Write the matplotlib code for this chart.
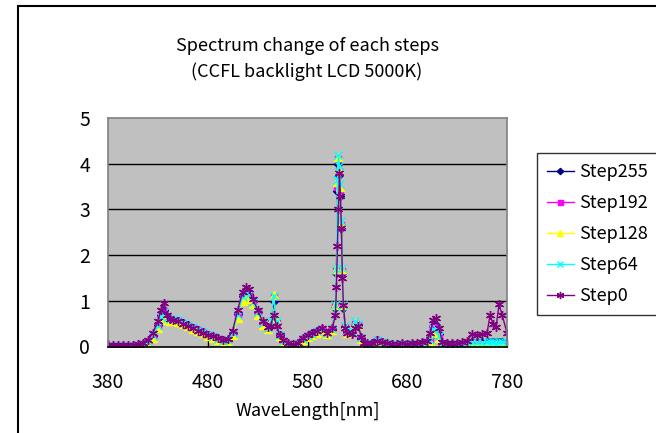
import matplotlib
matplotlib.use("Agg")
import matplotlib.pyplot as plt
from matplotlib.patches import Rectangle

plt.rcParams['font.family'] = ['Noto Sans CJK JP', 'DejaVu Sans']

wavelength = [
    380, 385, 390, 395, 400, 405, 410, 415, 420, 425,
    430, 433, 436, 439, 442, 445, 450, 455, 460, 465,
    470, 475, 480, 485, 490, 495, 500, 505, 510, 515,
    518, 521, 525, 530, 535, 540, 543, 546, 549, 552,
    555, 560, 565, 570, 575, 580, 585, 590, 595, 600,
    605, 608, 609, 610, 611, 612, 613, 614, 615, 616,
    618, 620, 625, 628, 631, 634, 637, 640, 645, 650,
    655, 660, 665, 670, 675, 680, 685, 690, 695, 700,
    703, 706, 709, 712, 715, 720, 725, 730, 735, 740,
    745, 750, 755, 760, 763, 766, 769, 772, 775, 780,
]

step255 = [
    0.02, 0.02, 0.02, 0.02, 0.02, 0.02, 0.03, 0.05, 0.10, 0.22,
    0.46, 0.68, 0.80, 0.64, 0.59, 0.58, 0.56, 0.51, 0.46, 0.41,
    0.36, 0.31, 0.26, 0.21, 0.16, 0.13, 0.14, 0.30, 0.72, 1.10,
    1.18, 1.14, 0.99, 0.76, 0.52, 0.40, 0.50, 1.00, 0.50, 0.25,
    0.13, 0.06, 0.04, 0.07, 0.17, 0.23, 0.29, 0.33, 0.39, 0.30,
    0.39, 0.85, 1.60, 3.40, 4.00, 3.75, 3.30, 2.60, 1.60, 0.85,
    0.42, 0.31, 0.30, 0.48, 0.46, 0.19, 0.07, 0.06, 0.07, 0.15,
    0.09, 0.06, 0.05, 0.05, 0.06, 0.05, 0.06, 0.06, 0.07, 0.08,
    0.20, 0.45, 0.47, 0.28, 0.07, 0.05, 0.05, 0.06, 0.06, 0.08,
    0.10, 0.10, 0.10, 0.10, 0.10, 0.10, 0.10, 0.10, 0.10, 0.10,
]

step192 = [
    0.02, 0.02, 0.02, 0.02, 0.02, 0.02, 0.03, 0.04, 0.09, 0.20,
    0.43, 0.66, 0.78, 0.62, 0.58, 0.57, 0.55, 0.50, 0.45, 0.40,
    0.36, 0.31, 0.26, 0.21, 0.16, 0.12, 0.13, 0.28, 0.68, 1.05,
    1.13, 1.10, 0.96, 0.74, 0.50, 0.40, 0.52, 1.08, 0.52, 0.24,
    0.12, 0.05, 0.04, 0.06, 0.16, 0.22, 0.28, 0.32, 0.38, 0.30,
    0.38, 0.88, 1.65, 3.50, 4.10, 3.85, 3.40, 2.65, 1.65, 0.88,
    0.43, 0.31, 0.32, 0.50, 0.47, 0.18, 0.06, 0.05, 0.06, 0.14,
    0.08, 0.05, 0.04, 0.04, 0.05, 0.04, 0.05, 0.05, 0.06, 0.06,
    0.16, 0.40, 0.42, 0.24, 0.06, 0.04, 0.04, 0.05, 0.05, 0.06,
    0.06, 0.06, 0.06, 0.06, 0.06, 0.06, 0.06, 0.06, 0.06, 0.06,
]

step128 = [
    0.01, 0.01, 0.01, 0.01, 0.01, 0.01, 0.02, 0.03, 0.07, 0.18,
    0.40, 0.62, 0.70, 0.58, 0.55, 0.55, 0.53, 0.49, 0.44, 0.39,
    0.34, 0.29, 0.24, 0.19, 0.14, 0.10, 0.11, 0.25, 0.62, 1.00,
    1.08, 1.05, 0.92, 0.70, 0.48, 0.38, 0.55, 1.12, 0.55, 0.22,
    0.10, 0.04, 0.03, 0.05, 0.14, 0.20, 0.26, 0.30, 0.36, 0.28,
    0.36, 0.90, 1.70, 3.60, 4.15, 3.90, 3.50, 2.70, 1.70, 0.90,
    0.45, 0.30, 0.33, 0.52, 0.48, 0.16, 0.05, 0.03, 0.04, 0.12,
    0.07, 0.03, 0.03, 0.03, 0.03, 0.03, 0.03, 0.04, 0.04, 0.04,
    0.10, 0.30, 0.32, 0.18, 0.04, 0.02, 0.02, 0.03, 0.03, 0.03,
    0.03, 0.03, 0.03, 0.03, 0.03, 0.03, 0.03, 0.03, 0.03, 0.03,
]

step64 = [
    0.02, 0.02, 0.02, 0.02, 0.02, 0.02, 0.03, 0.05, 0.10, 0.22,
    0.45, 0.65, 0.75, 0.62, 0.60, 0.60, 0.57, 0.52, 0.47, 0.42,
    0.37, 0.32, 0.27, 0.22, 0.17, 0.13, 0.14, 0.30, 0.70, 1.08,
    1.17, 1.14, 0.98, 0.75, 0.52, 0.40, 0.55, 1.10, 0.55, 0.25,
    0.12, 0.06, 0.04, 0.07, 0.16, 0.22, 0.28, 0.33, 0.38, 0.30,
    0.38, 0.90, 1.70, 3.65, 4.20, 3.95, 3.55, 2.75, 1.72, 0.90,
    0.45, 0.32, 0.35, 0.55, 0.50, 0.18, 0.07, 0.05, 0.06, 0.15,
    0.09, 0.05, 0.05, 0.04, 0.05, 0.05, 0.05, 0.06, 0.06, 0.06,
    0.15, 0.38, 0.40, 0.22, 0.06, 0.04, 0.04, 0.05, 0.06, 0.07,
    0.08, 0.08, 0.08, 0.09, 0.09, 0.09, 0.08, 0.09, 0.09, 0.08,
]

step0 = [
    0.03, 0.03, 0.03, 0.03, 0.03, 0.04, 0.05, 0.08, 0.15, 0.30,
    0.55, 0.80, 0.95, 0.70, 0.60, 0.58, 0.55, 0.50, 0.45, 0.40,
    0.35, 0.30, 0.26, 0.22, 0.18, 0.15, 0.17, 0.35, 0.80, 1.20,
    1.31, 1.25, 1.05, 0.80, 0.55, 0.42, 0.45, 0.70, 0.45, 0.25,
    0.15, 0.07, 0.05, 0.08, 0.18, 0.25, 0.30, 0.35, 0.40, 0.30,
    0.40, 0.70, 1.30, 2.20, 3.00, 3.80, 3.30, 2.60, 1.50, 0.90,
    0.40, 0.30, 0.28, 0.40, 0.45, 0.20, 0.08, 0.07, 0.08, 0.12,
    0.10, 0.07, 0.06, 0.06, 0.07, 0.06, 0.07, 0.08, 0.10, 0.12,
    0.30, 0.58, 0.62, 0.40, 0.10, 0.07, 0.08, 0.08, 0.10, 0.12,
    0.28, 0.26, 0.27, 0.30, 0.68, 0.50, 0.42, 0.92, 0.70, 0.30,
]

series_names = ["Step255", "Step192", "Step128", "Step64", "Step0"]
series_values = [step255, step192, step128, step64, step0]
colors = ["#000080", "#FF00FF", "#FFFF00", "#00FFFF", "#800080"]
markers = ["D", "s", "^", "x", (6, 2, 0)]
msizes = [4, 4.5, 5.5, 5.5, 6.5]

x_ticks = [380, 480, 580, 680, 780]
y_ticks = [0, 1, 2, 3, 4, 5]

fig = plt.figure(figsize=(6.56, 4.33), dpi=100)
fig.patch.set_facecolor("white")

# outer chart frame
fig.patches.append(Rectangle((18 / 656, -0.2), 1.2, 1.2 - 6 / 433,
                             transform=fig.transFigure, fill=False,
                             edgecolor="black", linewidth=1.5, clip_on=False))

ax = fig.add_axes([108 / 656, 86.5 / 433, 399 / 656, 228.5 / 433])
ax.set_facecolor("#C0C0C0")

for name, vals, c, m, ms in zip(series_names, series_values, colors, markers, msizes):
    ax.plot(wavelength, vals, color=c, linewidth=1.0, marker=m, markersize=ms,
            markeredgewidth=1.0, markerfacecolor=c, markeredgecolor=c, label=name)

ax.set_xlim(380, 780)
ax.set_ylim(0, 5)
ax.set_xticks(x_ticks)
ax.set_yticks(y_ticks)
ax.tick_params(axis="x", direction="in", length=5, width=1, labelsize=14, pad=18)
ax.tick_params(axis="y", length=0, labelsize=14, pad=13)
for yv in [1, 2, 3, 4]:
    ax.axhline(yv, color="black", linewidth=1.0, zorder=1)
for s in ["top", "right", "left"]:
    ax.spines[s].set_color("#808080")
    ax.spines[s].set_linewidth(1.2)
ax.spines["bottom"].set_color("black")
ax.spines["bottom"].set_linewidth(1.2)

ax.set_xlabel("WaveLength[nm]", fontsize=13, labelpad=7)

fig.text(307 / 656, 1 - 46 / 433, "Spectrum change of each steps",
         ha="center", va="center", fontsize=13)
fig.text(307 / 656, 1 - 72 / 433, "(CCFL backlight LCD 5000K)",
         ha="center", va="center", fontsize=13)

handles, labels = ax.get_legend_handles_labels()
leg = fig.legend(handles, labels, loc="upper left",
                 bbox_to_anchor=(537 / 656, 1 - 153 / 433),
                 frameon=True, fancybox=False, edgecolor="black",
                 fontsize=13, handlelength=1.5, handletextpad=0.3,
                 labelspacing=0.72, borderpad=0.55, borderaxespad=0.0,
                 markerscale=0.8)
leg.get_frame().set_linewidth(1.0)

fig.savefig("out.png", dpi=100)
